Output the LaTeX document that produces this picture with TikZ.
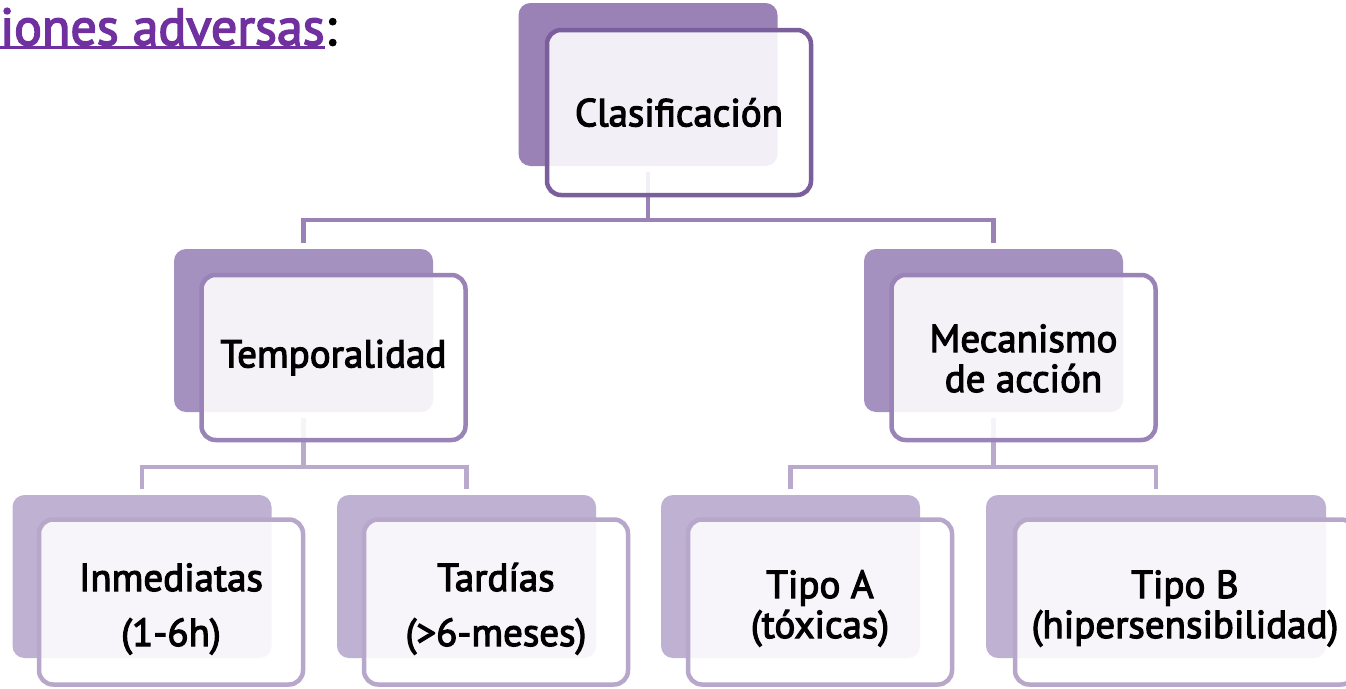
\documentclass[tikz,border=0pt]{standalone}
\usepackage{fontspec}
\newfontfamily\dinfnt{PT Sans}[FakeBold=3]
\newcommand\mybxfont{\dinfnt\fontsize{39}{40}\selectfont}
\newcommand\myttlfont{\dinfnt\fontsize{52}{56}\selectfont}
\newcommand\twolines[4]{\vbox{\offinterlineskip\vskip#4\halign{\hfil##\hfil\cr
  \vrule width0pt height30pt depth10pt #1\cr\noalign{\vskip#3}
  \vrule width0pt height30pt depth10pt #2\cr}}}
\definecolor{backA}{HTML}{9A82B6}
\definecolor{edgeA}{HTML}{7B5E9C}
\definecolor{backB}{HTML}{A591BF}
\definecolor{edgeB}{HTML}{9A83B7}
\definecolor{backC}{HTML}{BFB1D2}
\definecolor{edgeC}{HTML}{B7A8CB}
\definecolor{connA}{HTML}{9A82B6}
\definecolor{connB}{HTML}{B9AACD}
\definecolor{titlepurple}{HTML}{7030A0}
\tikzset{
  backbox/.style={rectangle, rounded corners=12pt, minimum width=259pt, minimum height=163pt, inner sep=0pt},
  frontbox/.style={rectangle, rounded corners=14pt, minimum width=264pt, minimum height=165pt, line width=4.5pt,
     fill=white, fill opacity=0.88, text opacity=1, align=center, font=\mybxfont, inner sep=0pt, text=black},
  backA/.style={backbox, fill=backA},
  backB/.style={backbox, fill=backB},
  backC/.style={backbox, fill=backC},
  frontA/.style={frontbox, draw=edgeA},
  frontB/.style={frontbox, draw=edgeB},
  frontC/.style={frontbox, draw=edgeC},
  connA/.style={draw=connA, line width=4.5pt, line join=miter},
  connB/.style={draw=connB, line width=4.5pt, line join=miter},
}
\begin{document}
\begin{tikzpicture}[x=1pt,y=-1pt]
\clip (0,0) rectangle (1346,688);
\fill[white] (0,0) rectangle (1346,688);
% title
\node[anchor=base west, inner sep=0pt, font=\myttlfont, text=titlepurple] (title) at (0,45) {iones adversas};
\node[anchor=base west, inner sep=0pt, font=\myttlfont, text=black] (colon) at (title.base east) {:};
\draw[titlepurple, line width=2.4pt] ([yshift=-2.5pt]title.base west) -- ([yshift=-2.5pt]title.base east);
% back boxes
\node[backA] (b1) at (648,84.5) {};
\node[backB] (b2L) at (303.5,330.5) {};
\node[backB] (b2R) at (993.5,330.5) {};
\node[backC] (b3a) at (142,576.5) {};
\node[backC] (b3b) at (466.5,576.5) {};
\node[backC] (b3c) at (790.5,576.5) {};
\node[backC, minimum width=340pt] (b3d) at (1156,576.5) {};
% connectors
\draw[connA] ([yshift=-6pt]b1.south) -- ++(0,48) -| ([yshift=6pt]b2L.north);
\draw[connA] ([yshift=-6pt]b1.south) -- ++(0,48) -| ([yshift=6pt]b2R.north);
\draw[connB] ([yshift=-6pt]b2L.south) -- ++(0,49) -| ([yshift=6pt]b3a.north);
\draw[connB] ([yshift=-6pt]b2L.south) -- ++(0,49) -| ([yshift=6pt]b3b.north);
\draw[connB] ([yshift=-6pt]b2R.south) -- ++(0,49) -| ([yshift=6pt]b3c.north);
\draw[connB] ([yshift=-6pt]b2R.south) -- ++(0,49) -| ([yshift=6pt]b3d.north);
% front boxes
\node[frontA] (f1) at (679,112.5) {Clasificación};
\node[frontB] (f2L) at (333.5,357.5) {Temporalidad};
\node[frontB] (f2R) at (1023.5,357.5) {\twolines{Mecanismo}{de acción}{0pt}{9pt}};
\node[frontC] (f3a) at (171,602) {\twolines{Inmediatas}{(1-6h)}{15pt}{13pt}};
\node[frontC] (f3b) at (496,602) {\twolines{Tardías}{(>6-meses)}{15pt}{13pt}};
\node[frontC] (f3c) at (820,602) {\twolines{Tipo A}{(tóxicas)}{0pt}{12pt}};
\node[frontC, minimum width=340pt] (f3d) at (1185,602) {\twolines{Tipo B}{(hipersensibilidad)}{0pt}{12pt}};
\end{tikzpicture}
\end{document}
